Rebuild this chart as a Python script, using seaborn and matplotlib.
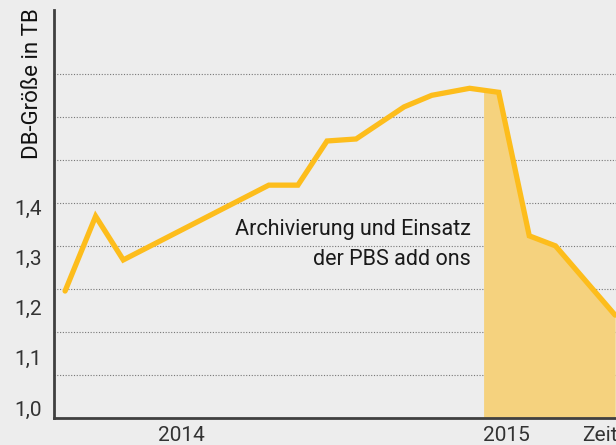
import numpy as np
import pandas as pd
import matplotlib.pyplot as plt
import seaborn as sns

# months since start of series (approx.) and DB size in TB
months = [0, 1.05, 2, 7, 8, 9, 10, 11.65, 12.6, 13.9, 14.9, 15.95, 16.85, 18.9]
size_tb = [1.233, 1.382, 1.295, 1.444, 1.444, 1.532, 1.536, 1.600, 1.623, 1.637, 1.629, 1.343, 1.323, 1.185]
y_ticks = [1.0, 1.1, 1.2, 1.3, 1.4]
y_labels = ["1,0", "1,1", "1,2", "1,3", "1,4"]
x_ticks = [4.0, 15.17, 18.38]
x_labels = ["2014", "2015", "Zeit"]
shade_start = 14.38

df = pd.DataFrame({"monat": months, "groesse": size_tb})

bg = "#ededed"
sns.set_style("white", {"axes.facecolor": bg, "figure.facecolor": bg})
plt.rcParams["font.family"] = ["Roboto", "DejaVu Sans"]

fig = plt.figure(figsize=(6.16, 4.45), dpi=100)
ax = fig.add_axes([0.0877, 0.0607, 0.9123, 0.9168])

ylo, yhi = 0.98, 1.793
ax.set_xlim(-0.38, 18.93)
ax.set_ylim(ylo, yhi)

# dotted guide lines
grid_y = ylo + 0.0857 * np.arange(1, 9)
ax.set_yticks(grid_y, minor=True)
ax.grid(True, which="minor", axis="y", linestyle=(0, (1, 1.5)), color="#777777", linewidth=0.8)
ax.tick_params(axis="y", which="minor", length=0)

# shaded area after archiving
xs = np.linspace(shade_start, months[-1], 200)
xs = np.unique(np.concatenate([xs, [m for m in months if m >= shade_start]]))
ax.fill_between(xs, ylo, np.interp(xs, months, size_tb), color="#f5d27e", linewidth=0, zorder=1)

sns.lineplot(data=df, x="monat", y="groesse", ax=ax, color="#fdbd1c", linewidth=3.8,
             zorder=3, clip_on=True)
ax.lines[-1].set_solid_joinstyle("miter")

ax.set_yticks(y_ticks)
ax.set_yticklabels(y_labels)
ax.set_xticks(x_ticks)
ax.set_xticklabels(x_labels)
ax.tick_params(axis="both", which="major", length=0, labelsize=15, labelcolor="#333333")
ax.tick_params(axis="y", pad=9)
ax.tick_params(axis="x", pad=6)

ax.set_xlabel("")
ax.set_ylabel("")
fig.text(0.052, 0.982, "DB-Größe in TB", rotation=90, ha="center", va="top",
         fontsize=16, color="#111111")

ax.text(13.95, 1.325, "Archivierung und Einsatz\nder PBS add ons", ha="right", va="center",
        fontsize=15.5, color="#1a1a1a", linespacing=1.55)

for s in ["top", "right"]:
    ax.spines[s].set_visible(False)
for s in ["left", "bottom"]:
    ax.spines[s].set_color("#404040")
    ax.spines[s].set_linewidth(2)
    ax.spines[s].set_zorder(4)

fig.savefig("out.png", dpi=100, facecolor=bg)
